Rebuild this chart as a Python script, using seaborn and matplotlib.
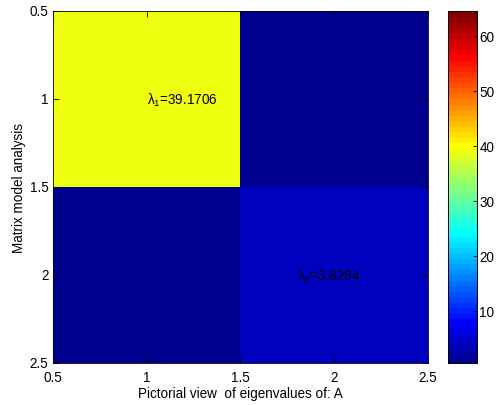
import numpy as np
import pandas as pd
import seaborn as sns
import matplotlib.pyplot as plt
from matplotlib.colors import ListedColormap

# eigenvalue matrix shown as an image (diag of eigenvalues of A)
eigvals = [39.1706, 3.8294]
rows = ["1", "2"]
cols = ["1", "2"]
tick_labels = ["0.5", "1", "1.5", "2", "2.5"]
cbar_ticks = [10, 20, 30, 40, 50, 60]

mat = pd.DataFrame(np.diag(eigvals), index=rows, columns=cols)

plt.rcParams['font.family'] = ['Liberation Sans', 'DejaVu Sans']
plt.rcParams['mathtext.fontset'] = 'custom'
plt.rcParams['mathtext.rm'] = 'Liberation Sans'
plt.rcParams['mathtext.it'] = 'Liberation Sans'

fs = 9.75

# matlab style jet(64)
i = np.arange(1, 65)
r = np.clip(np.minimum(i - 24, 72 - i) / 16, 0, 1)
g = np.clip(np.minimum(i - 8, 56 - i) / 16, 0, 1)
b = np.clip(np.minimum(i + 8, 40 - i) / 16, 0, 1)
jet64 = ListedColormap(np.column_stack([r, g, b]))

fig = plt.figure(figsize=(4.98, 4.06), dpi=100)
ax = fig.add_axes([0.106, 0.103, 0.753, 0.867])
cax = fig.add_axes([0.900, 0.103, 0.057, 0.867])

sns.heatmap(mat, ax=ax, cbar_ax=cax, cmap=jet64, vmin=0.5, vmax=64.5,
            cbar_kws={"ticks": cbar_ticks})

# heatmap cells sit at 0..2, label them like matlab image coords
ax.set_xticks(np.arange(0, 2.01, 0.5))
ax.set_yticks(np.arange(0, 2.01, 0.5))
ax.set_xticklabels(tick_labels, rotation=0)
ax.set_yticklabels(tick_labels, rotation=0)
ax.tick_params(direction='in', top=True, right=True, length=4, width=0.6,
               labelsize=fs)
ax.tick_params(axis='x', pad=5)
ax.tick_params(axis='y', pad=3)
for s in ax.spines.values():
    s.set_visible(True)
    s.set_linewidth(0.6)

ax.text(0.5, 0.5, r'$\lambda_1$=39.1706', fontsize=fs, ha='left', va='center')
ax.text(1.3, 1.5, r'$\lambda_2$=3.8294', fontsize=fs, ha='left', va='center')

ax.set_xlabel("Pictorial view  of eigenvalues of: A", fontsize=fs, labelpad=1)
ax.set_ylabel("Matrix model analysis", fontsize=fs, labelpad=3)

cax.tick_params(direction='in', length=3, width=0.6, labelsize=fs, pad=2)
for s in cax.spines.values():
    s.set_visible(True)
    s.set_linewidth(0.6)

plt.savefig("out.png", dpi=100)
